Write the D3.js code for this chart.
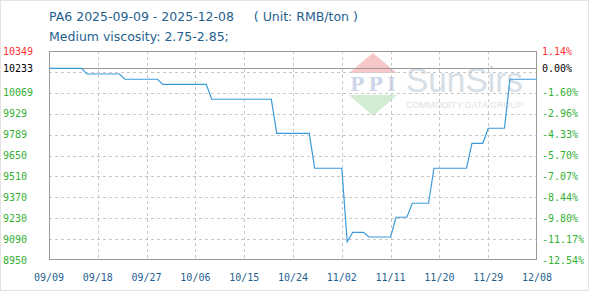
<!DOCTYPE html>
<html><head><meta charset="utf-8">
<script src="https://cdn.jsdelivr.net/npm/d3@7"></script>
<style>body{margin:0;background:#fff;}svg{display:block;}</style>
</head><body><svg id="c" width="589" height="291"></svg>
<script>
const dates = ["2025-09-09","2025-09-15","2025-09-16","2025-09-22","2025-09-23","2025-09-29","2025-09-30","2025-10-08","2025-10-09","2025-10-20","2025-10-21","2025-10-27","2025-10-28","2025-11-02","2025-11-03","2025-11-04","2025-11-06","2025-11-07","2025-11-11","2025-11-12","2025-11-14","2025-11-15","2025-11-18","2025-11-19","2025-11-25","2025-11-26","2025-11-28","2025-11-29","2025-12-02","2025-12-03","2025-12-08"];
const prices = [10233,10233,10195,10195,10160,10160,10126,10126,10026,10026,9798,9798,9564,9564,9072,9135,9135,9104,9104,9236,9236,9330,9330,9564,9564,9731,9731,9832,9832,10160,10160];
const leftTicks = [8950,9090,9230,9370,9510,9650,9789,9929,10069,10233,10349];
const gridValues = [8950,9089.9,9229.8,9369.7,9509.6,9649.5,9789.4,9929.3,10069.2,10209.1,10349];
const rightTicks = ["-12.54%","-11.17%","-9.80%","-8.44%","-7.07%","-5.70%","-4.33%","-2.96%","-1.60%","0.00%","1.14%"];
const xTickLabels = ["09/09","09/18","09/27","10/06","10/15","10/24","11/02","11/11","11/20","11/29","12/08"];
const baseValue = 10233;

const parse = d3.timeParse("%Y-%m-%d");
const data = dates.map((d,i)=>({date:parse(d), v:prices[i]}));
const svg = d3.select("#c");
const L=49,R=537,T=51,B=260;
const x = d3.scaleTime().domain([parse("2025-09-09"),parse("2025-12-08")]).range([L,R]);
const y = d3.scaleLinear().domain([8950,10349]).range([B,T]);

svg.append("rect").attr("x",0.5).attr("y",0.5).attr("width",588).attr("height",290).attr("fill","none").attr("stroke","#e3e3e3");

// watermark
const wm = svg.append("g");
wm.append("path").attr("d","M373,53 L397,73 L349,73 Z").attr("fill","#f8c8c8");
wm.append("text").attr("x",373).attr("y",91).attr("text-anchor","middle").attr("font-family","DejaVu Serif").attr("font-weight","bold").attr("font-size",19).attr("fill","#cdd6e8").attr("textLength",46).text("PPI");
wm.append("path").attr("d","M349,95 L397,95 L373,116 Z").attr("fill","#d2ecd2");
wm.append("text").attr("x",406).attr("y",92).attr("font-family","Liberation Sans, Arial").attr("font-size",35).attr("fill","#d6dee6").attr("textLength",117).attr("lengthAdjust","spacingAndGlyphs").text("SunSirs");
wm.append("text").attr("x",406).attr("y",108).attr("font-family","Liberation Sans, Arial").attr("font-size",9).attr("fill","#dbe2e8").attr("textLength",117).attr("lengthAdjust","spacingAndGlyphs").text("COMMODITY DATA GROUP");

// grid
const xTickDates = xTickLabels.map((t,i)=>d3.timeDay.offset(parse("2025-09-09"), i*9));
svg.append("g").selectAll("line").data(gridValues.slice(1,-1)).join("line")
  .attr("x1",L).attr("x2",R).attr("y1",d=>Math.round(y(d))+0.5).attr("y2",d=>Math.round(y(d))+0.5)
  .attr("stroke","#c8c8c8").attr("stroke-dasharray","3,3");
svg.append("g").selectAll("line").data(xTickDates.slice(1,-1)).join("line")
  .attr("y1",T).attr("y2",B).attr("x1",d=>Math.round(x(d))+0.5).attr("x2",d=>Math.round(x(d))+0.5)
  .attr("stroke","#c8c8c8").attr("stroke-dasharray","3,3");
// baseline
svg.append("line").attr("x1",L).attr("x2",R).attr("y1",Math.round(y(baseValue))+0.5).attr("y2",Math.round(y(baseValue))+0.5).attr("stroke","#999").attr("stroke-width",1);
// frame
svg.append("rect").attr("x",L+0.5).attr("y",T+0.5).attr("width",R-L-1).attr("height",B-T-1).attr("fill","none").attr("stroke","#999");

// line
svg.append("path").datum(data).attr("fill","none").attr("stroke","#3a9ad9").attr("stroke-width",1.2)
  .attr("d",d3.line().x(d=>x(d.date)).y(d=>y(d.v)));

// axis labels
const colorFor = (i,n)=> i===n-1 ? "#ff3333" : (i===n-2 ? "#000" : "#33b033");
const tickY = (v,i)=> i===leftTicks.length-2 ? y(baseValue) : (i===leftTicks.length-1 ? y(10349) : y(gridValues[i]));
svg.append("g").selectAll("text").data(leftTicks).join("text")
  .attr("x",3).attr("y",(d,i)=>tickY(d,i)+3.5)
  .attr("font-family","DejaVu Sans Mono, monospace").attr("font-size",10)
  .attr("fill",(d,i)=>colorFor(i,leftTicks.length)).text(d=>d);
svg.append("g").selectAll("text").data(rightTicks).join("text")
  .attr("x",542).attr("y",(d,i)=>tickY(leftTicks[i],i)+3.5)
  .attr("font-family","DejaVu Sans Mono, monospace").attr("font-size",10)
  .attr("fill",(d,i)=>colorFor(i,rightTicks.length)).text(d=>d);
svg.append("g").selectAll("text").data(xTickLabels).join("text")
  .attr("x",(d,i)=>x(xTickDates[i])).attr("y",281).attr("text-anchor","middle")
  .attr("font-family","DejaVu Sans Mono, monospace").attr("font-size",10)
  .attr("fill","#1f5f8f").text(d=>d);

// titles
svg.append("text").attr("x",49).attr("y",21).attr("font-family","DejaVu Sans, sans-serif").attr("font-size",12.5).attr("fill","#1f5f8f")
  .attr("xml:space","preserve").text("PA6 2025-09-09 - 2025-12-08     ( Unit: RMB/ton )");
svg.append("text").attr("x",49).attr("y",41).attr("font-family","DejaVu Sans, sans-serif").attr("font-size",12.5).attr("fill","#1f5f8f")
  .text("Medium viscosity: 2.75-2.85;");
</script></body></html>
